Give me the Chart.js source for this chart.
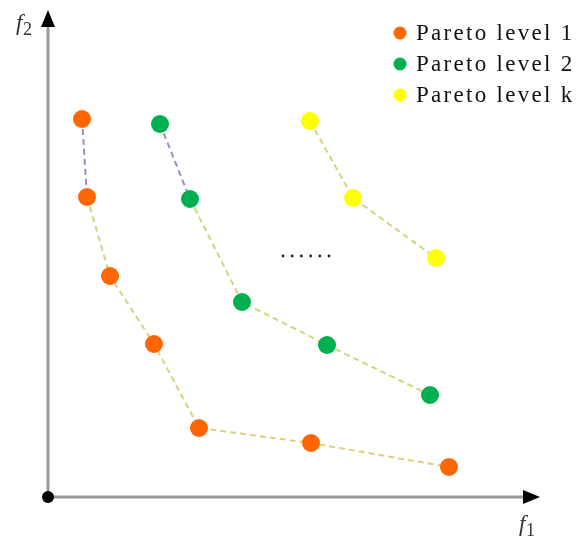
<!DOCTYPE html>
<html>
<head>
<meta charset="utf-8">
<script src="https://cdn.jsdelivr.net/npm/chart.js@4.4.1/dist/chart.umd.min.js"></script>
<style>
html, body { margin: 0; padding: 0; background: #fff; }
#wrap { width: 588px; height: 544px; }
</style>
</head>
<body>
<div id="wrap"><canvas id="paretoChart" width="588" height="544"></canvas></div>
<script>
// objective values (f1, f2)
var level1X = [34, 39, 62, 106, 151, 263, 401];
var level1Y = [378, 300, 221, 153, 69, 54, 30];
var level2X = [112, 142, 194, 279, 382];
var level2Y = [373, 298, 195, 152, 102];
var levelKX = [262, 305, 388];
var levelKY = [376, 299, 239];
var seriesLabels = ["Pareto level 1", "Pareto level 2", "Pareto level k"];
var seriesColors = ["#ff6600", "#00b050", "#ffff00"];

function toPoints(xs, ys){
    var pts = [];
    for (var i = 0; i < xs.length; i++) {
        pts.push({x: xs[i], y: ys[i]});
    }
    return pts;
}

function makeSet(idx, xs, ys, firstColor){
    return {
        label: seriesLabels[idx],
        data: toPoints(xs, ys),
        showLine: true,
        backgroundColor: seriesColors[idx],
        borderColor: "#d8d27c",
        borderWidth: 2,
        borderDash: [6, 4],
        pointRadius: 9,
        pointHoverRadius: 9,
        pointBorderWidth: 0,
        segment: {
            borderColor: function(ctx){ return ctx.p0DataIndex === 0 ? firstColor : "#d8d27c"; }
        }
    };
}

// axes with arrows, f labels, dots and legend
var decor = {
    id: "decor",
    beforeDatasetsDraw: function(chart){
        var c = chart.ctx;
        var a = chart.chartArea;
        var ox = chart.scales.x.getPixelForValue(0);
        var oy = chart.scales.y.getPixelForValue(0);
        c.save();
        c.strokeStyle = "#9a9a9a";
        c.lineWidth = 3;
        c.beginPath();
        c.moveTo(ox, oy); c.lineTo(a.right - 8, oy);
        c.moveTo(ox, oy); c.lineTo(ox, a.top + 8);
        c.stroke();
        c.fillStyle = "#000";
        c.beginPath();
        c.moveTo(a.right, oy); c.lineTo(a.right - 17, oy - 7); c.lineTo(a.right - 17, oy + 7); c.closePath();
        c.fill();
        c.beginPath();
        c.moveTo(ox, a.top); c.lineTo(ox - 7, a.top + 17); c.lineTo(ox + 7, a.top + 17); c.closePath();
        c.fill();
        c.beginPath();
        c.arc(ox, oy, 6, 0, Math.PI * 2);
        c.fill();
        c.restore();
    },
    afterDraw: function(chart){
        var c = chart.ctx;
        c.save();
        c.fillStyle = "#333";
        c.textBaseline = "alphabetic";
        c.font = "italic 23px 'Liberation Serif'";
        c.fillText("f", 16, 30);
        c.fillText("f", 519, 531);
        c.font = "18px 'Liberation Serif'";
        c.fillText("2", 23, 35);
        c.fillText("1", 526, 536);
        // "......"
        c.fillStyle = "#222";
        for (var d = 0; d < 6; d++) {
            c.beginPath();
            c.arc(283 + d * 9.2, 256, 1.4, 0, Math.PI * 2);
            c.fill();
        }
        // legend
        var rows = [33, 64, 95];
        c.font = "23px 'Liberation Serif'";
        c.letterSpacing = "2.3px";
        for (var i = 0; i < chart.data.datasets.length; i++) {
            c.fillStyle = seriesColors[i];
            c.beginPath();
            c.arc(400, rows[i], 6.5, 0, Math.PI * 2);
            c.fill();
            c.fillStyle = "#111";
            c.textBaseline = "middle";
            c.fillText(chart.data.datasets[i].label, 416, rows[i] + 1);
        }
        c.restore();
    }
};

var chart = document.getElementById('paretoChart');
var paretoChart = new Chart(chart, {
    type: 'scatter',
    data: {
        datasets: [
            makeSet(0, level1X, level1Y, "#8896c6"),
            makeSet(1, level2X, level2Y, "#8896c6"),
            makeSet(2, levelKX, levelKY, "#d8d27c")
        ]
    },
    options: {
        responsive: false,
        animation: false,
        layout: { padding: { left: 48, right: 48, top: 10, bottom: 47 } },
        scales: {
            x: { type: 'linear', min: 0, max: 492, display: false },
            y: { type: 'linear', min: 0, max: 487, display: false }
        },
        plugins: {
            legend: { display: false },
            tooltip: { enabled: false }
        }
    },
    plugins: [decor]
});
</script>
</body>
</html>
